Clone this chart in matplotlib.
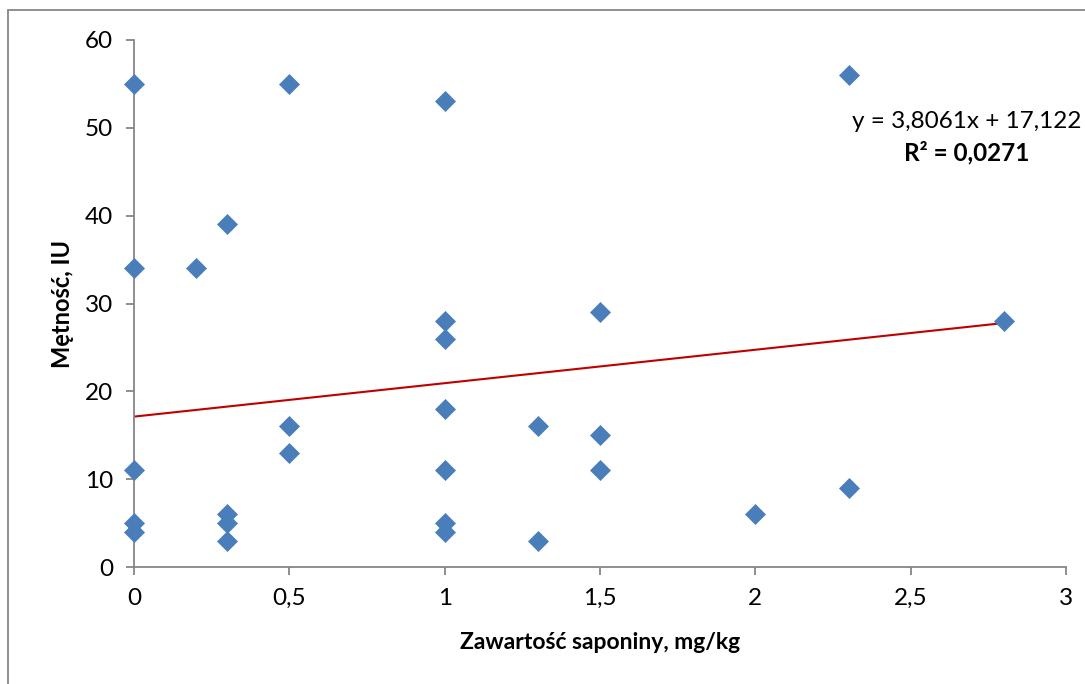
import numpy as np
import matplotlib.pyplot as plt
from matplotlib.patches import Rectangle

plt.rcParams['font.family'] = ['Lato', 'DejaVu Sans']

# zawartosc saponiny [mg/kg] i metnosc [IU]
saponiny = [0, 0, 0, 0, 0,
            0.2,
            0.3, 0.3, 0.3, 0.3,
            0.5, 0.5, 0.5,
            1, 1, 1, 1, 1, 1, 1,
            1.3, 1.3,
            1.5, 1.5, 1.5,
            2,
            2.3, 2.3,
            2.8]
metnosc = [55, 34, 11, 5, 4,
           34,
           39, 6, 5, 3,
           55, 16, 13,
           53, 28, 26, 18, 11, 5, 4,
           16, 3,
           29, 15, 11,
           6,
           56, 9,
           28]

# linia trendu (z wykresu)
a = 3.8061
b = 17.122

x_ticks = [0, 0.5, 1, 1.5, 2, 2.5, 3]
x_tick_labels = ['0', '0,5', '1', '1,5', '2', '2,5', '3']
y_ticks = [0, 10, 20, 30, 40, 50, 60]

W, H = 1085, 684
fig = plt.figure(figsize=(W / 100, H / 100), dpi=100)
ax = fig.add_axes([134 / W, (H - 567) / H, 932 / W, 527 / H])

szary = '#868686'

xs = np.array([0, max(saponiny)])
ax.plot(xs, a * xs + b, color='#c00000', lw=1.5, zorder=2)
ax.plot(saponiny, metnosc, 'D', color='#4a7ebb', markersize=10.5,
        markeredgecolor='#4a7ebb', markeredgewidth=0.5, zorder=3,
        clip_on=False)

ax.set_xlim(0, 3)
ax.set_ylim(0, 60)
ax.set_xticks(x_ticks)
ax.set_xticklabels(x_tick_labels)
ax.set_yticks(y_ticks)

for s in ['top', 'right']:
    ax.spines[s].set_visible(False)
for s in ['left', 'bottom']:
    ax.spines[s].set_color(szary)
    ax.spines[s].set_linewidth(1.3)

ax.tick_params(axis='both', direction='out', length=6, width=1.3,
               color=szary, labelsize=17.5, labelcolor='black')
ax.tick_params(axis='x', pad=9)
ax.tick_params(axis='y', pad=9)

ax.set_xlabel('Zawartość saponiny, mg/kg', fontsize=16.5,
              fontweight='bold', labelpad=17)
ax.set_ylabel('Mętność, IU', fontsize=17, fontweight='bold', labelpad=8)

fig.text(967 / W, 1 - 122 / H, 'y = 3,8061x + 17,122', fontsize=17.5,
         ha='center', va='center')
fig.text(967 / W, 1 - 153 / H, 'R² = 0,0271', fontsize=17.5,
         fontweight='bold', ha='center', va='center')

fig.patches.append(Rectangle((8 / W, -0.1), 1.2, 1 - 10 / H + 0.1,
                             transform=fig.transFigure, fill=False,
                             edgecolor=szary, lw=1.3))

fig.savefig('out.png', dpi=100)
